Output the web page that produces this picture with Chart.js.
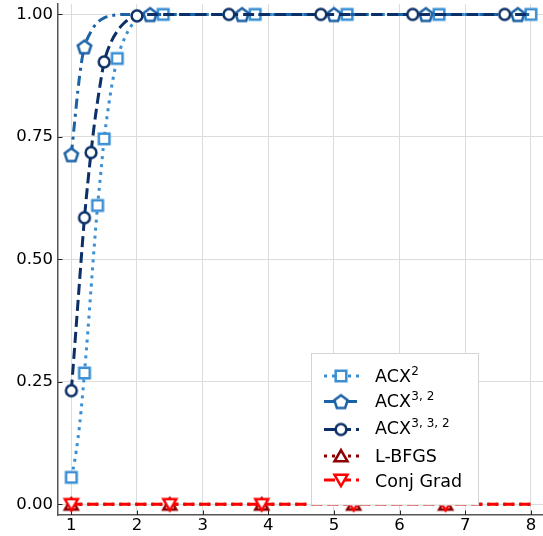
<!DOCTYPE html>
<html>
<head>
<meta charset="utf-8">
<script src="https://cdn.jsdelivr.net/npm/chart.js@4"></script>
<style>
  html, body { margin: 0; padding: 0; background: #ffffff; }
  #wrap { width: 543px; height: 536px; }
</style>
</head>
<body>
<div id="wrap"><canvas id="c" width="543" height="536"></canvas></div>
<script>
// ---- data ----
const xTicks = [1, 2, 3, 4, 5, 6, 7, 8];
const yTicks = [0, 0.25, 0.5, 0.75, 1.0];

const acx2X = [1.0, 1.05, 1.1, 1.15, 1.2, 1.25, 1.3, 1.35, 1.4, 1.45, 1.5, 1.55, 1.6, 1.65, 1.7, 1.8, 1.9, 2.0, 2.1, 2.2, 2.4, 3.8, 5.2, 6.6, 8.0];
const acx2Y = [0.055, 0.088, 0.133, 0.193, 0.268, 0.35, 0.44, 0.528, 0.61, 0.678, 0.746, 0.797, 0.842, 0.879, 0.91, 0.948, 0.974, 0.99, 0.997, 1.0, 1.0, 1.0, 1.0, 1.0, 1.0];
const acx2Marks = [1.0, 1.2, 1.4, 1.5, 1.7, 2.4, 3.8, 5.2, 6.6, 8.0];

const acx32X = [1.0, 1.05, 1.1, 1.15, 1.2, 1.25, 1.3, 1.35, 1.4, 1.5, 1.6, 1.7, 1.8, 2.2, 3.6, 5.0, 6.4, 7.8, 8.0];
const acx32Y = [0.714, 0.78, 0.845, 0.898, 0.934, 0.952, 0.965, 0.976, 0.984, 0.993, 0.997, 0.999, 1.0, 1.0, 1.0, 1.0, 1.0, 1.0, 1.0];
const acx32Marks = [1.0, 1.2, 2.2, 3.6, 5.0, 6.4, 7.8];

const acx332X = [1.0, 1.05, 1.1, 1.15, 1.2, 1.25, 1.3, 1.35, 1.4, 1.45, 1.5, 1.6, 1.7, 1.8, 1.9, 2.0, 2.1, 3.4, 4.8, 6.2, 7.6, 8.0];
const acx332Y = [0.232, 0.32, 0.41, 0.5, 0.585, 0.655, 0.718, 0.775, 0.823, 0.866, 0.903, 0.942, 0.966, 0.982, 0.992, 0.997, 1.0, 1.0, 1.0, 1.0, 1.0, 1.0];
const acx332Marks = [1.0, 1.2, 1.3, 1.5, 2.0, 3.4, 4.8, 6.2, 7.6];

const lbfgsX = [1.0, 2.5, 3.9, 5.3, 6.7, 8.0];
const lbfgsY = [0, 0, 0, 0, 0, 0];
const lbfgsMarks = [1.0, 2.5, 3.9, 5.3, 6.7];

const cgX = [1.0, 2.5, 3.9, 5.3, 6.7, 8.0];
const cgY = [0, 0, 0, 0, 0, 0];
const cgMarks = [1.0, 2.5, 3.9, 5.3, 6.7];

// ---- styling ----
const FONT = "'DejaVu Sans', 'Liberation Sans', sans-serif";

function makeMarker(shape, color) {
  const s = 22;
  const cv = document.createElement('canvas');
  cv.width = s; cv.height = s;
  const g = cv.getContext('2d');
  const c = s / 2;
  g.lineWidth = 2.5;
  g.strokeStyle = color;
  g.fillStyle = '#ffffff';
  g.lineJoin = 'miter';
  g.beginPath();
  if (shape === 'square') {
    const h = 5.3;
    g.rect(c - h, c - h, 2 * h, 2 * h);
  } else if (shape === 'circle') {
    g.arc(c, c, 5.4, 0, Math.PI * 2);
  } else if (shape === 'pentagon') {
    const r = 7;
    for (let i = 0; i < 5; i++) {
      const a = -Math.PI / 2 + i * 2 * Math.PI / 5;
      const px = c + r * Math.cos(a), py = c + 0.8 + r * Math.sin(a);
      if (i === 0) g.moveTo(px, py); else g.lineTo(px, py);
    }
    g.closePath();
  } else if (shape === 'triUp' || shape === 'triDown') {
    const r = 7.5;
    const dir = shape === 'triUp' ? 1 : -1;
    for (let i = 0; i < 3; i++) {
      const a = -Math.PI / 2 * dir + i * 2 * Math.PI / 3;
      const px = c + r * Math.cos(a), py = c + dir * 1.5 + r * Math.sin(a);
      if (i === 0) g.moveTo(px, py); else g.lineTo(px, py);
    }
    g.closePath();
  }
  g.fill();
  g.stroke();
  return cv;
}

const series = [
  { base: 'ACX', sup: '2',       xs: acx2X,   ys: acx2Y,   marks: acx2Marks,   color: '#3a8fd4', dash: [3, 5],          shape: 'square' },
  { base: 'ACX', sup: '3, 2',    xs: acx32X,  ys: acx32Y,  marks: acx32Marks,  color: '#1c62a6', dash: [10, 5, 3, 5],   shape: 'pentagon' },
  { base: 'ACX', sup: '3, 3, 2', xs: acx332X, ys: acx332Y, marks: acx332Marks, color: '#0b2f66', dash: [11, 5],         shape: 'circle' },
  { base: 'L-BFGS', sup: '',     xs: lbfgsX,  ys: lbfgsY,  marks: lbfgsMarks,  color: '#8b0000', dash: [3, 5],          shape: 'triUp' },
  { base: 'Conj Grad', sup: '',  xs: cgX,     ys: cgY,     marks: cgMarks,     color: '#ff0000', dash: [11, 5],         shape: 'triDown' }
];
series.forEach(s => { s.img = makeMarker(s.shape, s.color); });

const datasets = series.map((s, i) => ({
  label: s.base + (s.sup ? '^' + s.sup : ''),
  data: s.xs.map((x, k) => ({ x: x, y: s.ys[k] })),
  borderColor: s.color,
  backgroundColor: '#ffffff',
  borderWidth: 3,
  borderDash: s.dash,
  borderCapStyle: 'butt',
  fill: false,
  cubicInterpolationMode: 'monotone',
  pointStyle: s.img,
  pointRadius: (ctx) => {
    const p = ctx.raw;
    if (!p) return 0;
    return s.marks.some(m => Math.abs(m - p.x) < 1e-6) ? 7 : 0;
  },
  pointHoverRadius: 0,
  order: series.length - i
}));

// pin the plot frame to a fixed rectangle
const FRAME = { left: 58, top: 4, right: 543, bottom: 515 };
const fixedFrame = {
  id: 'fixedFrame',
  afterLayout(chart) {
    const A = FRAME;
    Object.assign(chart.chartArea, A, { width: A.right - A.left, height: A.bottom - A.top });
    const x = chart.scales.x, y = chart.scales.y;
    x.left = A.left; x.right = A.right; x.width = A.right - A.left;
    x.top = A.bottom; x.bottom = chart.height; x.height = x.bottom - x.top;
    y.left = 0; y.right = A.left; y.width = A.left;
    y.top = A.top; y.bottom = A.bottom; y.height = A.bottom - A.top;
    x.configure(); y.configure();
  }
};

// inward tick marks on the left and bottom spines
const innerTicks = {
  id: 'innerTicks',
  beforeDatasetsDraw(chart) {
    const { ctx, chartArea, scales } = chart;
    ctx.save();
    ctx.strokeStyle = '#222222';
    ctx.lineWidth = 1;
    yTicks.forEach(v => {
      const py = Math.round(scales.y.getPixelForValue(v)) + 0.5;
      ctx.beginPath();
      ctx.moveTo(chartArea.left, py);
      ctx.lineTo(chartArea.left + 4.5, py);
      ctx.stroke();
    });
    xTicks.forEach(v => {
      const px = Math.round(scales.x.getPixelForValue(v)) + 0.5;
      ctx.beginPath();
      ctx.moveTo(px, chartArea.bottom);
      ctx.lineTo(px, chartArea.bottom - 4.5);
      ctx.stroke();
    });
    ctx.restore();
  }
};

// boxed legend with line samples, markers and superscripted names
const boxLegend = {
  id: 'boxLegend',
  afterDraw(chart) {
    const ctx = chart.ctx;
    const box = { x: 311.5, y: 353.5, w: 167, h: 151.5 };
    const rowLine = [376, 401.5, 429.5, 456, 480];
    const baseLine = [381.7, 406.7, 434, 461.7, 486.7];
    ctx.save();
    ctx.fillStyle = '#ffffff';
    ctx.fillRect(box.x, box.y, box.w, box.h);
    ctx.strokeStyle = '#d4d4d4';
    ctx.lineWidth = 1;
    ctx.strokeRect(box.x, box.y, box.w, box.h);
    series.forEach((s, i) => {
      const y = rowLine[i];
      ctx.save();
      ctx.strokeStyle = s.color;
      ctx.lineWidth = 3;
      ctx.setLineDash(s.dash);
      ctx.lineCap = 'butt';
      ctx.beginPath();
      ctx.moveTo(324, y);
      ctx.lineTo(359, y);
      ctx.stroke();
      ctx.restore();
      ctx.drawImage(s.img, 341 - s.img.width / 2, y - s.img.height / 2);
      ctx.fillStyle = '#000000';
      ctx.textAlign = 'left';
      ctx.textBaseline = 'alphabetic';
      ctx.font = '17.5px ' + FONT;
      ctx.fillText(s.base, 375, baseLine[i]);
      if (s.sup) {
        const w = ctx.measureText(s.base).width;
        ctx.font = '12px ' + FONT;
        ctx.fillText(s.sup, 375 + w + 0.5, baseLine[i] - 6.8);
      }
    });
    ctx.restore();
  }
};

new Chart(document.getElementById('c'), {
  type: 'line',
  data: { datasets: datasets },
  options: {
    responsive: false,
    animation: false,
    devicePixelRatio: 1,
    layout: { padding: { top: 4, right: 0, left: 0, bottom: 0 } },
    plugins: { legend: { display: false }, tooltip: { enabled: false } },
    events: [],
    scales: {
      x: {
        type: 'linear',
        min: 0.797,
        max: 8.184,
        afterBuildTicks: (sc) => { sc.ticks = xTicks.map(v => ({ value: v })); },
        ticks: {
          font: { family: FONT, size: 16.5 },
          color: '#000000',
          padding: 1,
          maxRotation: 0,
          autoSkip: false,
          callback: (v) => String(v)
        },
        grid: { color: '#dcdcdc', lineWidth: 1, drawTicks: false },
        border: { display: true, color: '#555555', width: 1.5 }
      },
      y: {
        type: 'linear',
        min: -0.0218,
        max: 1.0212,
        afterBuildTicks: (sc) => { sc.ticks = yTicks.map(v => ({ value: v })); },
        ticks: {
          font: { family: FONT, size: 16.5 },
          color: '#000000',
          padding: 5,
          autoSkip: false,
          callback: (v) => Number(v).toFixed(2)
        },
        grid: { color: '#dcdcdc', lineWidth: 1, drawTicks: false },
        border: { display: true, color: '#555555', width: 1.5 }
      }
    }
  },
  plugins: [fixedFrame, innerTicks, boxLegend]
});
</script>
</body>
</html>
